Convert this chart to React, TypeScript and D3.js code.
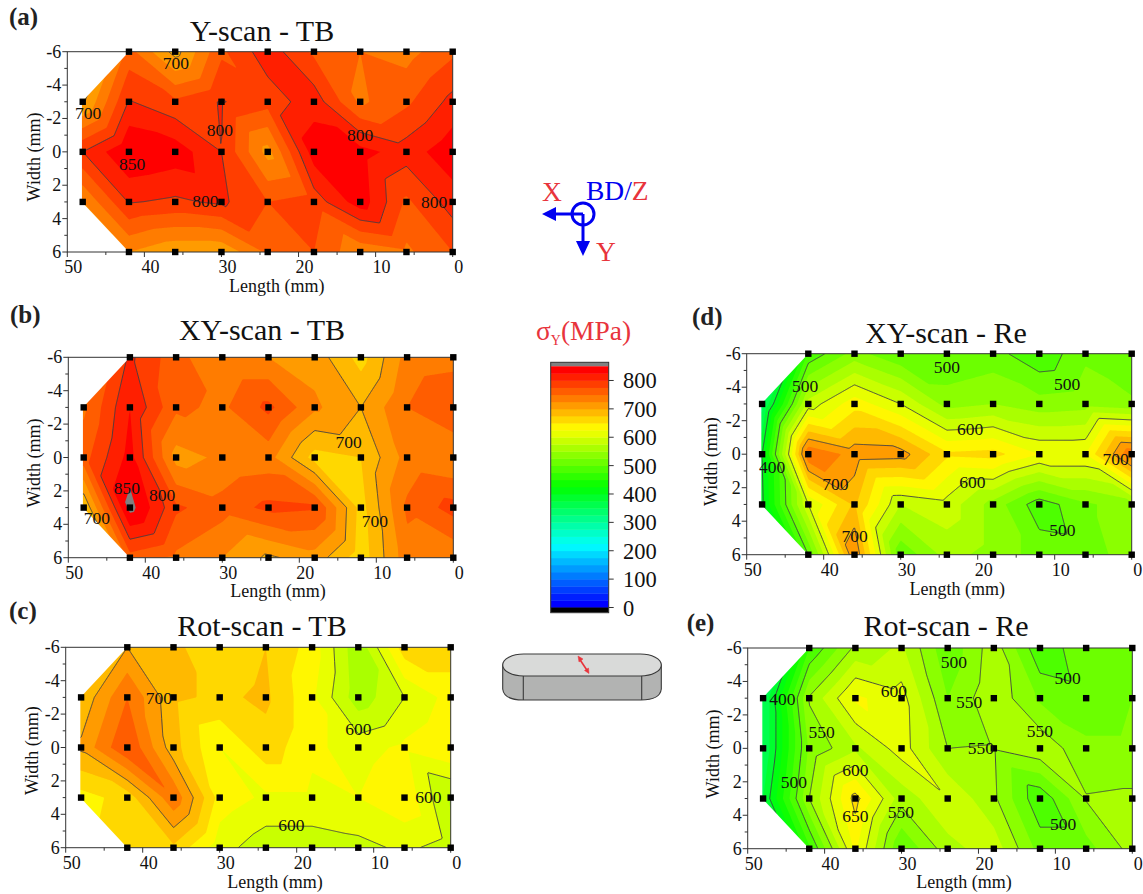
import React, { useMemo } from "react";
import * as d3 from "d3";

const FONT = "'Liberation Serif', 'Times New Roman', serif";
const lengthGrid = [48, 42, 36, 30, 24, 18, 12, 6, 0];
const widthGrid = [-6, -3, 0, 3, 6];
const xTicks = [50, 40, 30, 20, 10, 0];
const yTicks = [-6, -4, -2, 0, 2, 4, 6];
const legendTicks = [0, 100, 200, 300, 400, 500, 600, 700, 800];

const valuesA = [
  [null, 760, 690, 770, 815, 770, 750, 740, 770],
  [695, 802, 780, 802, 785, 815, 745, 770, 808],
  [800, 850, 840, 800, 715, 840, 835, 812, 842],
  [725, 802, 795, 805, 775, 785, 840, 770, 812],
  [null, 725, 705, 705, 755, 775, 730, 745, 775],
];
const valuesB = [
  [null, 805, 760, 725, 725, 715, 665, 735, 740],
  [745, 825, 755, 745, 782, 730, 700, 750, 775],
  [765, 835, 715, 730, 735, 665, 675, 735, 725],
  [675, 860, 780, 760, 782, 778, 665, 755, 785],
  [null, 765, 745, 725, 695, 715, 660, 740, 730],
];
const valuesC = [
  [null, 700, 680, 660, 675, 640, 555, 665, 665],
  [680, 750, 680, 670, 680, 630, 560, 600, 635],
  [705, 775, 685, 625, 665, 630, 615, 630, 650],
  [640, 660, 745, 640, 620, 620, 625, 645, 570],
  [null, 665, 670, 610, 585, 585, 592, 605, 590],
];
const valuesD = [
  [null, 480, 535, 502, 500, 510, 480, 520, 500],
  [340, 585, 640, 600, 540, 550, 535, 540, 530],
  [400, 750, 715, 712, 655, 660, 625, 625, 750],
  [395, 600, 680, 575, 590, 540, 485, 520, 540],
  [null, 500, 725, 505, 560, 540, 515, 510, 540],
];
const valuesE = [
  [null, 475, 556, 580, 505, 565, 480, 520, 520],
  [350, 553, 630, 610, 525, 570, 520, 510, 525],
  [350, 530, 570, 612, 550, 552, 570, 530, 530],
  [375, 550, 660, 560, 598, 555, 480, 552, 555],
  [null, 470, 630, 500, 565, 590, 515, 515, 560],
];

const labelsA = [[35.9, -5.34, "700"], [47.3, -2.3, "700"], [30.2, -1.3, "800"], [12, -1, "800"], [41.6, 0.7, "850"], [32.1, 2.96, "800"], [2.4, 3.02, "800"]];
const labelsB = [[42.4, 1.8, "850"], [37.8, 2.26, "800"], [46.3, 3.6, "700"], [13.6, -0.9, "700"], [10.2, 3.82, "700"]];
const labelsC = [[37.9, -2.94, "700"], [12, -1.1, "600"], [2.9, 2.98, "600"], [20.7, 4.66, "600"]];
const labelsD = [[24, -5.2, "500"], [42.4, -4.1, "500"], [8.4, -4.2, "500"], [21, -1.5, "600"], [46.7, 0.77, "400"], [2.1, 0.3, "700"], [38.5, 1.8, "700"], [20.7, 1.67, "600"], [36, 4.86, "700"], [9, 4.54, "500"]];
const labelsE = [[23.2, -5.16, "500"], [8.4, -4.2, "500"], [45.5, -2.95, "400"], [31, -3.45, "600"], [21.2, -2.8, "550"], [40.4, -0.97, "550"], [12, -1.03, "550"], [19.7, 0, "550"], [36, 1.27, "600"], [44, 2.04, "500"], [30.1, 3.78, "550"], [36, 4.02, "650"], [9, 4.54, "500"]];

const panels = [
  { id: "(a)", title: "Y-scan - TB", values: valuesA, labels: labelsA, lines: [700, 800], x0: 67.3, x1: 452.7, y0: 51.7, y1: 252, titleX: 262, titleY: 40.7, letterX: 9, letterY: 25, lenX: 276.7, lenY: 292, widX: 40, widY: 157, off: 6 },
  { id: "(b)", title: "XY-scan - TB", values: valuesB, labels: labelsB, lines: [700, 800], x0: 68.3, x1: 453.3, y0: 357.3, y1: 557.7, titleX: 262, titleY: 340, letterX: 10, letterY: 322.7, lenX: 278, lenY: 596.7, widX: 40, widY: 463, off: 6 },
  { id: "(c)", title: "Rot-scan - TB", values: valuesC, labels: labelsC, lines: [600, 700], x0: 65.7, x1: 450.7, y0: 647.3, y1: 847.7, titleX: 262, titleY: 635.7, letterX: 9, letterY: 619, lenX: 275, lenY: 888, widX: 38, widY: 750.7, off: 6 },
  { id: "(d)", title: "XY-scan - Re", values: valuesD, labels: labelsD, lines: [400, 500, 600, 700], x0: 746.7, x1: 1131.7, y0: 353.7, y1: 554.7, titleX: 946, titleY: 342.7, letterX: 692, letterY: 325, lenX: 957.3, lenY: 595, widX: 717, widY: 461.7, off: 6 },
  { id: "(e)", title: "Rot-scan - Re", values: valuesE, labels: labelsE, lines: [400, 500, 550, 600, 650], x0: 747.7, x1: 1132.3, y0: 648, y1: 848.7, titleX: 946, titleY: 635.7, letterX: 686.7, letterY: 630.7, lenX: 964, lenY: 888, widX: 719, widY: 754, off: 6 },
];

const BAND = 25;
const rainbow = d3
  .scaleLinear<string>()
  .domain([0, 1 / 4, 2 / 4, 3 / 4, 1])
  .range(["#0000ff", "#00ffff", "#00ff00", "#ffff00", "#ff0000"]);
const bandColor = (v: number) => {
  if (v >= 850) return "#808080";
  if (v < 0) return "#000000";
  return rainbow(Math.floor(v / BAND) / 33);
};

// piecewise-linear surface: each grid cell is split into two triangles along one diagonal
function makeSurface(values: (number | null)[][]) {
  return (lx: number, wy: number) => {
    const fc = Math.max(0, Math.min(lengthGrid.length - 1.0001, (48 - lx) / 6));
    const fr = Math.max(0, Math.min(widthGrid.length - 1.0001, (wy + 6) / 3));
    const c = Math.floor(fc);
    const r = Math.floor(fr);
    const u = fc - c;
    const v = fr - r;
    const a = values[r][c] as number;
    const b = values[r][c + 1] as number;
    const d = values[r + 1][c] as number;
    const e = values[r + 1][c + 1] as number;
    if (r === 0 && c === 0) return b * (1 - v) + d * (1 - u) + e * (u + v - 1);
    if (v <= u || d === null) return a * (1 - u) + b * (u - v) + e * v;
    return a * (1 - v) + d * (v - u) + e * u;
  };
}

const pathFromMulti = (geo: any, fx: (n: number) => number, fy: (n: number) => number) =>
  geo.coordinates
    .map((poly: number[][][]) =>
      poly
        .map((ring) => "M" + ring.map((p) => `${fx(p[0]).toFixed(2)},${fy(p[1]).toFixed(2)}`).join("L") + "Z")
        .join("")
    )
    .join("");

function Panel({ p, idx }: { p: (typeof panels)[number]; idx: number }) {
  const sx = d3.scaleLinear().domain([50, 0]).range([p.x0, p.x1]);
  const sy = d3.scaleLinear().domain([-6, 6]).range([p.y0, p.y1]);
  const { fills, lines } = useMemo(() => {
    const surf = makeSurface(p.values);
    const pad = 3;
    const n = Math.round(p.x1 - p.x0 - (2 * (p.x1 - p.x0)) / 50) + pad * 2 + 4;
    const m = Math.round(p.y1 - p.y0) + pad * 2 + 1;
    const lenAt = d3.scaleLinear().domain([pad, n - 1 - pad]).range([48.5, -0.2]);
    const widAt = d3.scaleLinear().domain([pad, m - 1 - pad]).range([-6.1, 6.1]);
    const grid = new Float64Array(n * m);
    for (let j = 0; j < m; j++)
      for (let i = 0; i < n; i++) grid[j * n + i] = surf(lenAt(i), widAt(j));
    const gen = d3.contours().size([n, m]).smooth(true);
    const fx = (c: number) => sx(lenAt(c - 0.5));
    const fy = (c: number) => sy(widAt(c - 0.5));
    const lowest = Math.floor((d3.min(grid) as number) / BAND) * BAND;
    const thresholds = d3.range(lowest, 900, BAND);
    const fills = thresholds
      .map((t) => ({ t, d: pathFromMulti(gen.contour(grid as any, t), fx, fy) }))
      .filter((f) => f.d);
    const lines = p.lines.map((t) => pathFromMulti(gen.contour(grid as any, t), fx, fy));
    return { fills, lines };
  }, [idx]);
  const maskId = `mask${idx}`;
  const domainOutline = [[48.1, -3], [42, -6], [0, -6], [0, 6], [42, 6], [48.1, 3]];
  const outline = d3.line()(domainOutline.map(([a, b]) => [sx(a), sy(b)] as [number, number])) + "Z";
  const minorX = d3.range(0, 51, 5);
  const minorY = d3.range(-6, 7, 1);
  const ink = "#333";
  return (
    <g fontFamily={FONT}>
      <defs>
        <mask id={maskId} maskUnits="userSpaceOnUse" x={0} y={0} width={1143} height={894}>
          <path d={outline} fill="#fff" />
        </mask>
      </defs>
      <g mask={`url(#${maskId})`}>
        {fills.map((f) => (
          <path key={f.t} d={f.d} fill={bandColor(f.t)} fillRule="evenodd" />
        ))}
        {lines.map((d, i) => (
          <path key={i} d={d} fill="none" stroke="#3c3c46" strokeWidth={0.9} />
        ))}
      </g>
      <rect x={p.x0} y={p.y0} width={p.x1 - p.x0} height={p.y1 - p.y0} fill="none" stroke={ink} strokeWidth={1} />
      {minorX.map((t) => (
        <line key={t} x1={sx(t)} x2={sx(t)} y1={p.y1} y2={p.y1 + (t % 10 === 0 ? 5 : 3)} stroke={ink} strokeWidth={1} />
      ))}
      {minorY.map((t) => (
        <line key={t} y1={sy(t)} y2={sy(t)} x1={p.x0} x2={p.x0 - (t % 2 === 0 ? 5 : 3)} stroke={ink} strokeWidth={1} />
      ))}
      {xTicks.map((t) => (
        <text key={t} x={sx(t) + p.off} y={p.y1 + 21} fontSize={18} textAnchor="middle" fill="#111">
          {t}
        </text>
      ))}
      {yTicks.map((t) => (
        <text key={t} x={p.x0 - 6} y={sy(t) + 6} fontSize={18} textAnchor="end" fill="#111">
          {t}
        </text>
      ))}
      {p.values.map((row, r) =>
        row.map((v, c) =>
          v === null ? null : (
            <rect
              key={`${r}-${c}`}
              x={sx(lengthGrid[c]) - 3.2}
              y={sy(widthGrid[r]) - 3.2}
              width={6.4}
              height={6.4}
              fill="#000"
            />
          )
        )
      )}
      {p.labels.map((l, i) => (
        <text key={i} x={sx(l[0] as number)} y={sy(l[1] as number) + 6} fontSize={17.5} textAnchor="middle" fill="#111">
          {l[2]}
        </text>
      ))}
      <text x={p.titleX} y={p.titleY} fontSize={30} textAnchor="middle" fill="#111">
        {p.title}
      </text>
      <text x={p.letterX} y={p.letterY} fontSize={25} fontWeight="bold" fill="#222">
        {p.id}
      </text>
      <text x={p.lenX} y={p.lenY} fontSize={18} textAnchor="middle" fill="#111">
        Length (mm)
      </text>
      <text transform={`translate(${p.widX},${p.widY}) rotate(-90)`} fontSize={18} textAnchor="middle" fill="#111">
        Width (mm)
      </text>
    </g>
  );
}

function Legend() {
  const s = d3.scaleLinear().domain([0, 850]).range([607.5, 366.3]);
  const bands = d3.range(0, 850, BAND);
  const x = 550.7;
  const w = 58;
  return (
    <g fontFamily={FONT}>
      <text x={536} y={340} fontSize={27.5} fill="#e8343c">
        σ
        <tspan fontSize={14} dy={5}>
          Y
        </tspan>
        <tspan dy={-5}>(MPa)</tspan>
      </text>
      <rect x={x} y={362.3} width={w} height={4.2} fill="#808080" />
      {bands.map((b) => (
        <rect key={b} x={x} y={s(b + BAND)} width={w} height={s(b) - s(b + BAND) + 0.4} fill={bandColor(b)} />
      ))}
      <rect x={x} y={607.5} width={w} height={5} fill="#000" />
      <rect x={x} y={362.3} width={w} height={250.4} fill="none" stroke="#333" strokeWidth={1} />
      {legendTicks.map((t) => (
        <g key={t}>
          <line x1={x + w} x2={x + w + 5} y1={s(t)} y2={s(t)} stroke="#333" strokeWidth={1} />
          <text x={623} y={s(t) + 8} fontSize={22.5} fill="#111">
            {t}
          </text>
        </g>
      ))}
    </g>
  );
}

function Axes3D() {
  const blue = "#0000f0";
  const red = "#e8343c";
  return (
    <g fontFamily={FONT}>
      <text x={542} y={201} fontSize={27.5} fill={red}>X</text>
      <text x={586} y={200} fontSize={27.5} fill={blue}>
        BD/<tspan fill={red}>Z</tspan>
      </text>
      <text x={596} y={261} fontSize={27.5} fill={red}>Y</text>
      <circle cx={583} cy={214} r={11} fill="none" stroke={blue} strokeWidth={3} />
      <line x1={583} y1={214} x2={552} y2={214} stroke={blue} strokeWidth={3} />
      <path d="M542,214L556,207L556,221Z" fill={blue} />
      <line x1={583} y1={214} x2={583} y2={245} stroke={blue} strokeWidth={3} />
      <path d="M583,256L576,241L590,241Z" fill={blue} />
    </g>
  );
}

function Specimen() {
  return (
    <g stroke="#3a3a3a" strokeWidth={1.1}>
      <path d="M502.7,665 L502.7,689 Q504,700 523,700 L641,700 Q660,700 661.3,689 L661.3,665 Z" fill="#b2b3b2" />
      <rect x={502.7} y={654} width={158.6} height={22} rx={21} ry={11} fill="#d9dad9" />
      <line x1={523.3} x2={523.3} y1={676} y2={700} />
      <line x1={641.7} x2={641.7} y1={676} y2={700} />
      <line x1={579.5} y1={659} x2={587.5} y2={671} stroke="#e8343c" strokeWidth={1.6} />
      <path d="M578,656L583,659L579,662Z" fill="#e8343c" stroke="#e8343c" strokeWidth={0.5} />
      <path d="M589,673.5L584.5,670.5L588.5,668Z" fill="#e8343c" stroke="#e8343c" strokeWidth={0.5} />
    </g>
  );
}

export default function App() {
  return (
    <svg
      width={1143}
      height={894}
      viewBox="0 0 1143 894"
      style={{ position: "absolute", left: 0, top: 0, display: "block", background: "#fff" }}
    >
      {panels.map((p, i) => (
        <Panel key={p.id} p={p} idx={i} />
      ))}
      <Legend />
      <Axes3D />
      <Specimen />
    </svg>
  );
}
